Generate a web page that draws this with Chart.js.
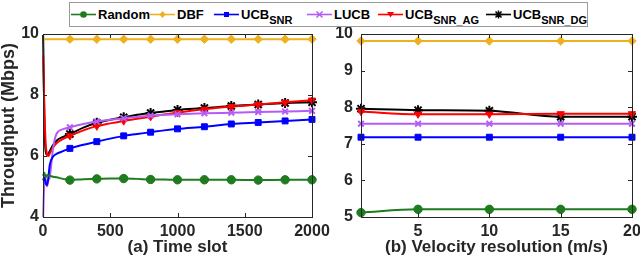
<!DOCTYPE html>
<html><head><meta charset="utf-8">
<script src="https://cdn.jsdelivr.net/npm/chart.js@4"></script>
<style>
html,body{margin:0;padding:0;background:#fff;}
#wrap{position:relative;width:640px;height:265px;overflow:hidden;font-family:"Liberation Sans",Arial,sans-serif;}
#cA{position:absolute;left:0;top:0;}
#cB{position:absolute;left:320px;top:0;}
#legend{position:absolute;left:69px;top:2px;width:519px;height:25px;border:1px solid #9a9a9a;background:#fff;box-sizing:border-box;font-weight:bold;font-size:13px;color:#000;white-space:nowrap;}
.item{position:absolute;top:0;height:23px;display:flex;align-items:center;}
.item svg{display:block;margin-right:2px;}
.lab{line-height:13px;}
.lab sub{font-size:11px;position:relative;top:5px;vertical-align:baseline;line-height:0;}
</style></head>
<body>
<div id="wrap">
  <canvas id="cA" width="340" height="265"></canvas>
  <canvas id="cB" width="320" height="265"></canvas>
  <div id="legend"></div>
</div>
<script>
// ---------- data ----------
const seriesNames = ["Random", "DBF", "UCB", "LUCB", "UCB", "UCB"];
const seriesSubs  = ["", "", "SNR", "", "SNR_AG", "SNR_DG"];

// (a) time slot panel
const timeSlots = [1, 10, 20, 30, 40, 50, 75, 100, 150, 200, 300, 400, 500, 600, 700, 800, 900, 1000, 1200, 1400, 1600, 1800, 2000];
const randomA = [5.35, 5.45, 5.30, 5.38, 5.36, 5.35, 5.32, 5.30, 5.25, 5.21, 5.24, 5.25, 5.26, 5.26, 5.25, 5.23, 5.23, 5.22, 5.22, 5.22, 5.21, 5.22, 5.22];
const dbfA    = [9.83, 9.83, 9.83, 9.83, 9.83, 9.83, 9.83, 9.83, 9.83, 9.83, 9.83, 9.83, 9.83, 9.83, 9.83, 9.83, 9.83, 9.83, 9.83, 9.83, 9.83, 9.83, 9.83];
const ucbSnrA = [5.20, 5.30, 5.10, 5.05, 5.30, 5.70, 5.98, 6.07, 6.16, 6.25, 6.37, 6.47, 6.57, 6.66, 6.72, 6.78, 6.84, 6.89, 6.96, 7.05, 7.10, 7.15, 7.20];
const lucbA   = [4.00, 5.10, 5.25, 5.00, 5.20, 5.30, 6.25, 6.72, 6.88, 6.94, 7.05, 7.13, 7.19, 7.24, 7.28, 7.32, 7.35, 7.37, 7.40, 7.42, 7.44, 7.46, 7.48];
const ucbAgA  = [9.30, 7.60, 6.40, 6.06, 6.00, 6.08, 6.28, 6.42, 6.56, 6.66, 6.84, 6.98, 7.07, 7.15, 7.22, 7.29, 7.36, 7.42, 7.53, 7.62, 7.69, 7.76, 7.83];
const ucbDgA  = [9.97, 7.20, 6.15, 6.04, 6.08, 6.16, 6.36, 6.50, 6.63, 6.72, 6.93, 7.09, 7.19, 7.27, 7.35, 7.41, 7.46, 7.51, 7.57, 7.64, 7.69, 7.74, 7.76];
const markerEvery = 200;
const xTicksA = [0, 500, 1000, 1500, 2000];
const yTicksA = [4, 6, 8, 10];

// (b) velocity resolution panel
const velocityRes = [1, 5, 10, 15, 20];
const randomB = [5.12, 5.21, 5.21, 5.21, 5.21];
const dbfB    = [9.81, 9.81, 9.81, 9.81, 9.81];
const ucbSnrB = [7.18, 7.18, 7.18, 7.18, 7.18];
const lucbB   = [7.55, 7.55, 7.55, 7.55, 7.55];
const ucbAgB  = [7.88, 7.81, 7.81, 7.82, 7.82];
const ucbDgB  = [7.96, 7.92, 7.90, 7.74, 7.74];
const xTicksB = [5, 10, 15, 20];
const yTicksB = [5, 6, 7, 8, 9, 10];

// ---------- styles ----------
const styles = [
  {color:'#1e7b1e', pointStyle:'circle',   radius:4.2, rot:0,   bw:1, fill:true},
  {color:'#edb120', pointStyle:'rectRot',  radius:4.2, rot:0,   bw:1, fill:true},
  {color:'#0000ff', pointStyle:'rect',     radius:4.2, rot:0,   bw:1, fill:true},
  {color:'#b55cf5', pointStyle:'crossRot', radius:4,   rot:0,   bw:2, fill:false},
  {color:'#ff0000', pointStyle:'triangle', radius:4.2, rot:180, bw:1, fill:true},
  {color:'#000000', pointStyle:'star',     radius:5,   rot:0,   bw:2, fill:false},
];
const tickColor = '#262626';
const FONT = '"Liberation Sans", Arial, sans-serif';

function pairs(xs, ys){ return xs.map((x,i)=>({x:x, y:ys[i]})); }

function makeDatasets(xs, arrs, markerFn){
  return arrs.map((ys, i) => {
    const s = styles[i];
    return {
      label: seriesNames[i] + seriesSubs[i],
      data: pairs(xs, ys),
      borderColor: s.color,
      backgroundColor: s.color,
      borderWidth: 2,
      pointStyle: s.pointStyle,
      pointRotation: s.rot,
      pointRadius: markerFn ? (c => markerFn(c.raw) ? s.radius : 0) : s.radius,
      pointBorderWidth: s.bw,
      pointBorderColor: s.color,
      pointBackgroundColor: s.color,
      cubicInterpolationMode: 'monotone',
      clip: false,
    };
  });
}

const boxPlugin = {
  id: 'boxTicks',
  afterDraw(chart){
    const {ctx, chartArea:a, scales} = chart;
    ctx.save();
    ctx.strokeStyle = tickColor;
    ctx.lineWidth = 1;
    ctx.strokeRect(Math.round(a.left)+0.5, Math.round(a.top)+0.5, Math.round(a.right-a.left), Math.round(a.bottom-a.top));
    const L = 4;
    ctx.beginPath();
    scales.x.ticks.forEach(t => {
      const px = Math.round(scales.x.getPixelForValue(t.value))+0.5;
      if (px <= a.left+1 || px >= a.right-1) return;
      ctx.moveTo(px, a.bottom); ctx.lineTo(px, a.bottom-L);
      ctx.moveTo(px, a.top); ctx.lineTo(px, a.top+L);
    });
    scales.y.ticks.forEach(t => {
      const py = Math.round(scales.y.getPixelForValue(t.value))+0.5;
      if (py <= a.top+1 || py >= a.bottom-1) return;
      ctx.moveTo(a.left, py); ctx.lineTo(a.left+L, py);
      ctx.moveTo(a.right, py); ctx.lineTo(a.right-L, py);
    });
    ctx.stroke();
    ctx.restore();
  }
};

function baseOptions(cfg){
  return {
    responsive: false,
    animation: false,
    events: [],
    devicePixelRatio: 1,
    layout: {padding: {left: 0, right: cfg.padR, top: 34, bottom: 0}},
    plugins: {legend: {display: false}, tooltip: {enabled: false}},
    scales: {
      x: {
        type: 'linear', min: cfg.xmin, max: cfg.xmax,
        afterFit: s => { s.height = 48; s.paddingLeft = 0; s.paddingRight = 0; },
        afterBuildTicks: s => { s.ticks = cfg.xticks.map(v => ({value: v})); },
        grid: {display: false, drawTicks: false},
        border: {display: false},
        ticks: {color: tickColor, font: {family: FONT, size: 16, weight: 'bold'}, padding: 5, maxRotation: 0, autoSkip: false, callback: v => String(v)},
        title: {display: true, text: cfg.xtitle, color: tickColor, font: {family: FONT, size: 17, weight: 'bold', lineHeight: 1.2}, padding: {top: 0, bottom: 7}},
      },
      y: {
        type: 'linear', min: cfg.ymin, max: cfg.ymax,
        afterFit: s => { s.width = cfg.yw; s.paddingTop = 0; s.paddingBottom = 0; },
        afterBuildTicks: s => { s.ticks = cfg.yticks.map(v => ({value: v})); },
        grid: {display: false, drawTicks: false},
        border: {display: false},
        ticks: {color: tickColor, font: {family: FONT, size: 16, weight: 'bold'}, padding: cfg.ypad, autoSkip: false, callback: v => String(v)},
        title: {display: !!cfg.ytitle, text: cfg.ytitle || '', color: tickColor, font: {family: FONT, size: 18, weight: 'bold', lineHeight: 1}, padding: {top: 0, bottom: 0}},
      }
    }
  };
}

new Chart(document.getElementById('cA'), {
  type: 'line',
  data: {datasets: makeDatasets(timeSlots, [randomA, dbfA, ucbSnrA, lucbA, ucbAgA, ucbDgA], r => r.x % markerEvery === 0)},
  options: baseOptions({xmin: 0, xmax: 2000, ymin: 4, ymax: 10, xticks: xTicksA, yticks: yTicksA, xtitle: '(a) Time slot', ytitle: 'Throughput (Mbps)', yw: 43, ypad: 4, padR: 28}),
  plugins: [boxPlugin]
});

new Chart(document.getElementById('cB'), {
  type: 'line',
  data: {datasets: makeDatasets(velocityRes, [randomB, dbfB, ucbSnrB, lucbB, ucbAgB, ucbDgB], null)},
  options: baseOptions({xmin: 1, xmax: 20, ymin: 5, ymax: 10, xticks: xTicksB, yticks: yTicksB, xtitle: '(b) Velocity resolution (m/s)', ytitle: '', yw: 41, ypad: 8, padR: 8}),
  plugins: [boxPlugin]
});

// ---------- HTML legend (real text with subscripts) ----------
function markerSvg(i){
  const s = styles[i], c = s.color, cx = 12.5, cy = 11.5;
  let m = '';
  if (s.pointStyle === 'circle') m = `<circle cx="${cx}" cy="${cy}" r="3.3" fill="${c}"/>`;
  else if (s.pointStyle === 'rectRot') m = `<polygon points="${cx},${cy-3.5} ${cx+3},${cy} ${cx},${cy+3.5} ${cx-3},${cy}" fill="${c}"/>`;
  else if (s.pointStyle === 'rect') m = `<rect x="${cx-2.5}" y="${cy-2.5}" width="5" height="5" fill="${c}"/>`;
  else if (s.pointStyle === 'crossRot') m = `<path d="M${cx-3},${cy-3}L${cx+3},${cy+3}M${cx+3},${cy-3}L${cx-3},${cy+3}" stroke="${c}" stroke-width="1.5"/>`;
  else if (s.pointStyle === 'triangle') m = `<polygon points="${cx-3.5},${cy-2.5} ${cx+3.5},${cy-2.5} ${cx},${cy+3}" fill="${c}"/>`;
  else m = `<path d="M${cx-4},${cy}L${cx+4},${cy}M${cx},${cy-4}L${cx},${cy+4}M${cx-3},${cy-3}L${cx+3},${cy+3}M${cx+3},${cy-3}L${cx-3},${cy+3}" stroke="${c}" stroke-width="1.5"/>`;
  return `<svg width="25" height="23"><line x1="0" y1="${cy}" x2="25" y2="${cy}" stroke="${c}" stroke-width="1.6"/>${m}</svg>`;
}
const legendX = [1, 80, 144, 237, 308, 416];
const lg = document.getElementById('legend');
seriesNames.forEach((n, i) => {
  const d = document.createElement('div');
  d.className = 'item';
  d.style.left = legendX[i] + 'px';
  d.innerHTML = markerSvg(i) + `<span class="lab">${n}${seriesSubs[i] ? '<sub>' + seriesSubs[i] + '</sub>' : ''}</span>`;
  lg.appendChild(d);
});
</script>
</body></html>
